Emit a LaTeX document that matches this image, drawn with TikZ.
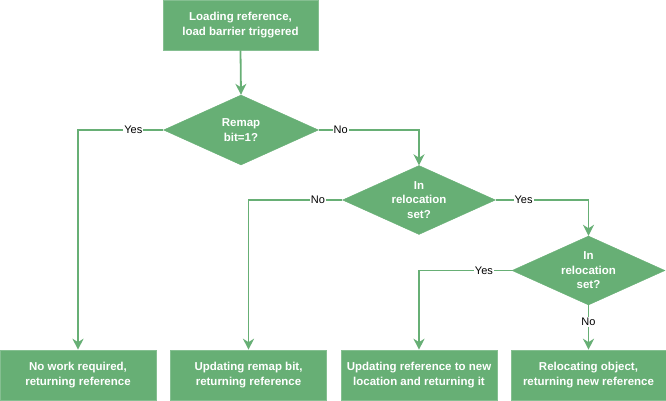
\documentclass[tikz,border=0pt]{standalone}
\usepackage{fontspec}
\setmainfont{Liberation Sans}
\usetikzlibrary{shapes.geometric,arrows.meta}
\definecolor{gfill}{HTML}{67AF75}
\definecolor{gline}{HTML}{67AF75}
\begin{document}
\begin{tikzpicture}[x=1pt,y=-1pt,
  boxnode/.style={rectangle,fill=gfill,draw=gfill!80!white,line width=0.6pt,text=white,font=\fontsize{11.5}{14.5}\selectfont\bfseries,align=center,minimum height=50pt,inner sep=0pt},
  decision/.style={diamond,fill=gfill,draw=gfill,text=white,font=\fontsize{11.5}{14.5}\selectfont\bfseries,align=center,aspect=2.2,inner sep=0pt,minimum width=153pt,minimum height=69pt},
  conn/.style={draw=gline,line width=1.8pt,-{Stealth[length=11pt,width=11pt,inset=3.5pt]}},
  lbl/.style={fill=white,inner sep=1pt,text=black,font=\fontsize{11}{13}\selectfont}]
\useasboundingbox (0,0) rectangle (666,401);
\node[boxnode,minimum width=155pt] (top) at (240.5,25) {Loading reference,\\load barrier triggered};
\node[decision,minimum width=155pt,minimum height=70pt] (d1) at (241,130) {Remap\\bit=1?};
\node[decision] (d2) at (419,200) {In\\relocation\\set?};
\node[decision] (d3) at (588.5,270.5) {In\\relocation\\set?};
\node[boxnode,minimum width=156pt] (b1) at (78,375) {No work required,\\returning reference};
\node[boxnode,minimum width=156pt] (b2) at (248.5,375) {Updating remap bit,\\returning reference};
\node[boxnode,minimum width=156pt] (b3) at (419,375) {Updating reference to new\\location and returning it};
\node[boxnode,minimum width=155pt] (b4) at (588.5,375) {Relocating object,\\returning new reference};
\draw[conn] (top.south) -- (d1.north);
\draw[conn] (d1.west) -| node[lbl,pos=0.176] {Yes} (b1.north);
\draw[conn] (d1.east) -| node[lbl,pos=0.11] {No} (d2.north);
\draw[conn] (d2.west) -| node[lbl,pos=0.13] {No} (b2.north);
\draw[conn] (d2.east) -| node[lbl,pos=0.15] {Yes} (d3.north);
\draw[conn] (d3.west) -| node[lbl,pos=0.15] {Yes} (b3.north);
\draw[conn] (d3.south) -- node[lbl,pos=0.38] {No} (b4.north);
\end{tikzpicture}
\end{document}
